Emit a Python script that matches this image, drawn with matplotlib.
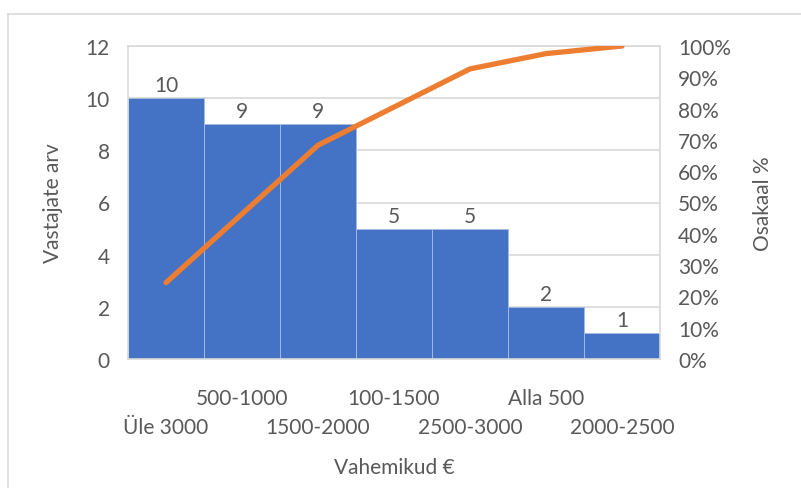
import matplotlib
matplotlib.use("Agg")
import matplotlib.pyplot as plt
import numpy as np
from matplotlib.ticker import PercentFormatter
from matplotlib.lines import Line2D

categories = ["Üle 3000", "500-1000", "1500-2000", "100-1500", "2500-3000", "Alla 500", "2000-2500"]
counts = [10, 9, 9, 5, 5, 2, 1]
cum_share = np.cumsum(counts) / np.sum(counts)

plt.rcParams['font.family'] = ['Lato', 'DejaVu Sans']
TXT = '#595959'
GRID = '#D9D9D9'
FS = 15

fig = plt.figure(figsize=(8.01, 4.89), dpi=100)
ax = fig.add_axes([128/801, 1-360/489, (660-128)/801, (360-47)/489])

x = np.arange(len(categories))
bars = ax.bar(x, counts, width=1.0, color='#4472C4', edgecolor='#A9BCE3', linewidth=0.6, zorder=2)
ax.bar_label(bars, labels=[str(c) for c in counts], padding=2, fontsize=FS, color=TXT)

ax.set_xlim(-0.5, len(categories) - 0.5)
ax.set_ylim(0, 12)
ax.set_yticks(np.arange(0, 13, 2))
ax.grid(axis='y', color=GRID, linewidth=1.2, zorder=0)
ax.set_axisbelow(True)
for s in ax.spines.values():
    s.set_color(GRID)
    s.set_linewidth(1.2)
ax.tick_params(axis='y', length=0, pad=13, labelsize=FS, labelcolor=TXT)
ax.set_xticks(x)
ax.set_xticklabels(categories)
ax.tick_params(axis='x', length=0, labelsize=FS, labelcolor=TXT)
for i, t in enumerate(ax.xaxis.get_major_ticks()):
    t.set_pad(21 if i % 2 == 1 else 42)

ax.set_ylabel("Vastajate arv", fontsize=FS, color=TXT, labelpad=16)
ax.set_xlabel("Vahemikud €", fontsize=FS, color=TXT, labelpad=14)

ax2 = ax.twinx()
ax2.plot(x, cum_share, color='#ED7D31', linewidth=3.8, solid_capstyle='round', solid_joinstyle='round', zorder=3)
ax2.set_ylim(0, 1)
ax2.set_yticks(np.arange(0, 1.01, 0.1))
ax2.yaxis.set_major_formatter(PercentFormatter(1.0, decimals=0))
ax2.tick_params(axis='y', length=0, pad=13, labelsize=FS, labelcolor=TXT)
for s in ax2.spines.values():
    s.set_visible(False)
ax2.set_ylabel("Osakaal %", fontsize=FS, color=TXT, labelpad=16)

# outer chart border
fig.add_artist(Line2D([8/801, 1.0], [1-15/489, 1-15/489], transform=fig.transFigure, color=GRID, linewidth=1.2))
fig.add_artist(Line2D([8/801, 8/801], [0, 1-15/489], transform=fig.transFigure, color=GRID, linewidth=1.2))

fig.savefig("out.png", dpi=100)
